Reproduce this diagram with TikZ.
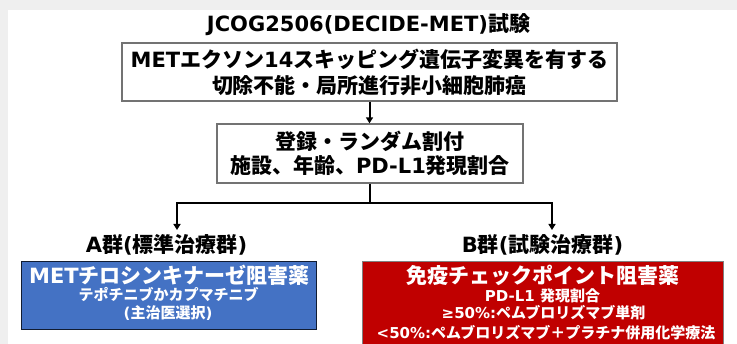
\documentclass[tikz,border=0pt]{standalone}
\usepackage{fontspec}
\setmainfont{Noto Sans CJK JP}
\newfontfamily\latf{DejaVu Sans}
\newcommand\lw[1]{{\latf\bfseries #1}}
\usetikzlibrary{arrows.meta}
\definecolor{bluebox}{HTML}{4472C4}
\definecolor{redbox}{HTML}{C00000}
\definecolor{bgray}{HTML}{EFEFEF}
\begin{document}
\begin{tikzpicture}[x=1pt,y=-1pt,
  big/.style={inner sep=0pt, font=\bfseries\fontsize{21}{26}\selectfont},
  small/.style={inner sep=0pt, font=\bfseries\fontsize{15}{18}\selectfont, text=white},
  wbox/.style={draw=black!55, line width=1.3pt, fill=white, inner sep=0pt, align=center},
  conn/.style={line width=2pt, draw=black},
  arr/.style={conn, -{Triangle[length=6pt,width=7pt]}}]
\useasboundingbox (0,0) rectangle (737,344);
\clip (0,0) rectangle (737,344);
\fill[bgray] (0,0) rectangle (737,344);
\fill[white] (8,10) rectangle (737,344);

\node[big] (title) at (368.5,25) {\lw{JCOG2506(DECIDE-MET)}試験};

\node[wbox, minimum width=495pt, minimum height=58pt,
      font=\bfseries\fontsize{21}{26}\selectfont] (elig) at (369.5,72)
  {\lw{MET}エクソン\lw{14}スキッピング遺伝子変異を有する\\切除不能・局所進行非小細胞肺癌};

\node[wbox, minimum width=306pt, minimum height=59pt,
      font=\bfseries\fontsize{21}{24}\selectfont] (rand) at (370,153.5)
  {登録・ランダム割付\\施設、年齢、\lw{PD-L1}発現割合};

\coordinate (split) at (370,203);
\coordinate (tipA) at (177,230);
\coordinate (tipB) at (552,230);

\draw[arr] (elig.south) -- (elig.south |- rand.north);
\draw[conn] (rand.south) -- (split);
\draw[arr] (split) -| (tipA);
\draw[arr] (split) -| (tipB);

\node[big] (labA) at (166.5,245) {\lw{A}群\lw{(}標準治療群\lw{)}};
\node[big] (labB) at (542.5,245) {\lw{B}群\lw{(}試験治療群\lw{)}};

\node[draw=black!75!bluebox, line width=1pt, fill=bluebox, anchor=north west,
      minimum width=295pt, minimum height=68pt, inner sep=0pt] (armA) at (21,261) {};
\node[big, text=white] (armA1) at (169.5,275) {\lw{MET}チロシンキナーゼ阻害薬};
\node[small] (armA2) at (168.5,295) {テポチニブかカプマチニブ};
\node[small] (armA3) at (168,313) {\lw{(}主治医選択\lw{)}};

\node[draw=black!50, line width=1pt, fill=redbox, anchor=north west,
      minimum width=361pt, minimum height=95pt, inner sep=0pt] (armB) at (362,261) {};
\node[big, text=white] (armB1) at (542.5,275) {免疫チェックポイント阻害薬};
\node[small] (armB2) at (542.5,296) {\lw{PD-L1 }発現割合};
\node[small] (armB3) at (543.5,313) {\lw{≥50\%:}ペムブロリズマブ単剤};
\node[small] (armB4) at (546,333) {\lw{<50\%:}ペムブロリズマブ＋プラチナ併用化学療法};
\end{tikzpicture}
\end{document}
